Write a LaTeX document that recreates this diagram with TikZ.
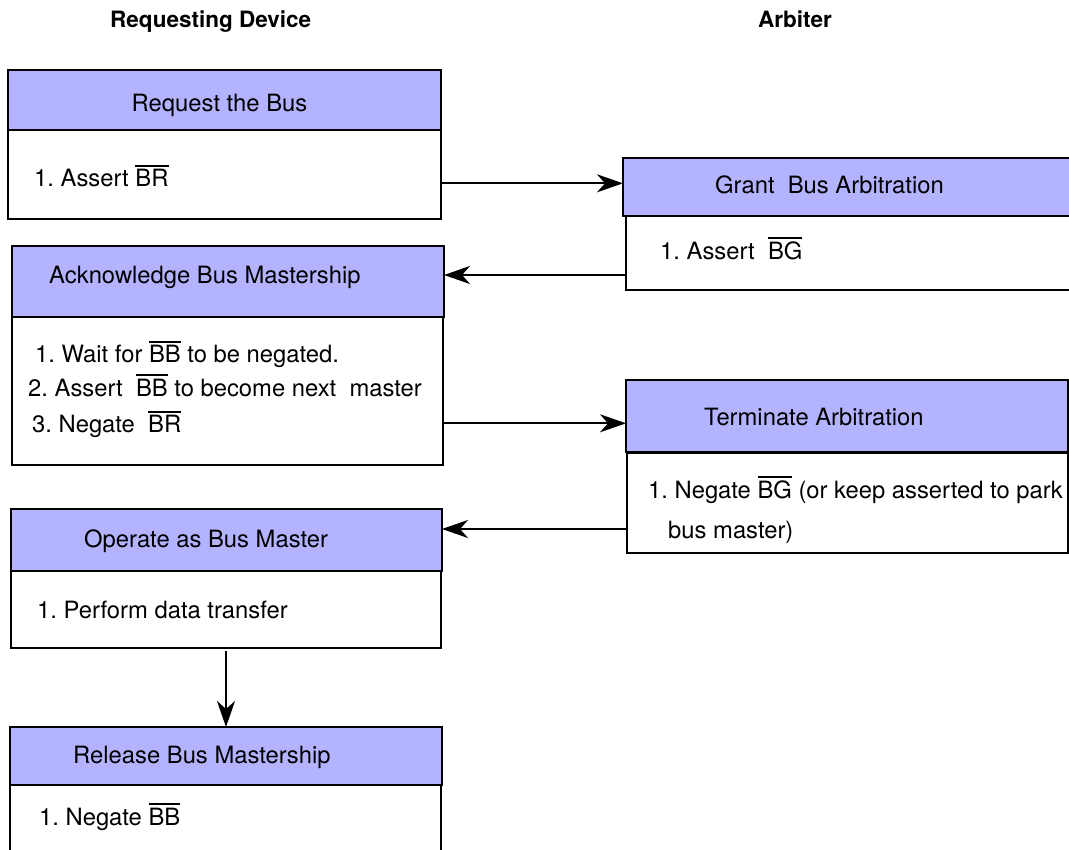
\documentclass[tikz,border=0pt]{standalone}
\usepackage{fontspec}
\setmainfont{TeX Gyre Heros}
\usetikzlibrary{arrows.meta}
\definecolor{hdrfill}{RGB}{179,179,255}
\newcommand\ovl[1]{\leavevmode\vbox{\hrule height 1.6pt\kern 2.6pt\hbox{#1}}}
\frenchspacing
\begin{document}
\begin{tikzpicture}[x=1pt,y=-1pt,
  hdr/.style={draw, line width=2.2pt, fill=hdrfill, anchor=north west, inner sep=0pt, outer sep=0pt},
  bdy/.style={draw, line width=2.2pt, fill=white, anchor=north west, inner sep=0pt, outer sep=0pt},
  txt/.style={inner sep=0pt, anchor=base west, font=\fontsize{23.8}{28}\selectfont},
  ttl/.style={inner sep=0pt, anchor=base west, font=\fontsize{22.5}{26}\selectfont\bfseries},
  arr/.style={line width=2.2pt, -{Stealth[length=26pt,width=18pt,inset=8pt]}}]
\useasboundingbox (0,0) rectangle (1069,850);

% column titles
\node[ttl] (tReq) at (110,27.7) {Requesting Device};
\node[ttl] (tArb) at (758,27.7) {Arbiter};

% left column
\node[bdy, minimum width=433pt, minimum height=89pt] (b1) at (8,130) {};
\node[hdr, minimum width=433pt, minimum height=60pt] (h1) at (8,70) {};
\node[txt] (h1t) at (131.5,111.7) {Request the Bus};
\node[txt] (b1t) at (34,186.7) {1. Assert \ovl{BR}};

\node[bdy, minimum width=431pt, minimum height=148pt] (b2) at (12,317) {};
\node[hdr, minimum width=432pt, minimum height=71pt] (h2) at (12,246) {};
\node[txt] (h2t) at (49,284) {Acknowledge Bus Mastership};
\node[txt] (b2t1) at (35,362.7) {1. Wait for \ovl{BB} to be negated.};
\node[txt] (b2t2) at (28,396) {2. Assert~ \ovl{BB} to become next~ master};
\node[txt] (b2t3) at (32,432.7) {3. Negate~ \ovl{BR}};

\node[bdy, minimum width=430pt, minimum height=77pt] (b3) at (11,571) {};
\node[hdr, minimum width=431pt, minimum height=62pt] (h3) at (11,509) {};
\node[txt] (h3t) at (84,547) {Operate as Bus Master};
\node[txt] (b3t) at (37,618) {1. Perform data transfer};

\node[bdy, minimum width=431pt, minimum height=80pt] (b4) at (10,785) {};
\node[hdr, minimum width=432pt, minimum height=58pt] (h4) at (10,727) {};
\node[txt] (h4t) at (73,763) {Release Bus Mastership};
\node[txt] (b4t) at (39,825) {1. Negate \ovl{BB}};

% right column
\node[bdy, minimum width=446pt, minimum height=74pt] (g2) at (626,216) {};
\node[hdr, minimum width=449pt, minimum height=58pt] (g1) at (623,158) {};
\node[txt] (g1t) at (715,193.3) {Grant~ Bus Arbitration};
\node[txt] (g2t) at (660,259.3) {1. Assert~ \ovl{BG}};

\node[bdy, minimum width=441pt, minimum height=100pt] (t2) at (627,453) {};
\node[hdr, minimum width=442pt, minimum height=72pt] (t1) at (626,380) {};
\node[txt] (t1t) at (704,425.7) {Terminate Arbitration};
\node[txt] (t2t1) at (648,498) {1. Negate \ovl{BG} (or keep asserted to park};
\node[txt] (t2t2) at (668,538) {bus master)};

% connector levels
\coordinate (y1) at (0,183.3);
\coordinate (y2) at (0,275);
\coordinate (y3) at (0,423.3);
\coordinate (y4) at (0,529);
\coordinate (x5) at (226,0);

\draw[arr] (b1.east |- y1) -- (g1.west |- y1);
\draw[arr] (g2.west |- y2) -- (h2.east |- y2);
\draw[arr] (b2.east |- y3) -- (t1.west |- y3);
\draw[arr] (t2.west |- y4) -- (h3.east |- y4);
\draw[arr, shorten <=3pt] (x5 |- b3.south) -- (x5 |- h4.north);
\end{tikzpicture}
\end{document}
